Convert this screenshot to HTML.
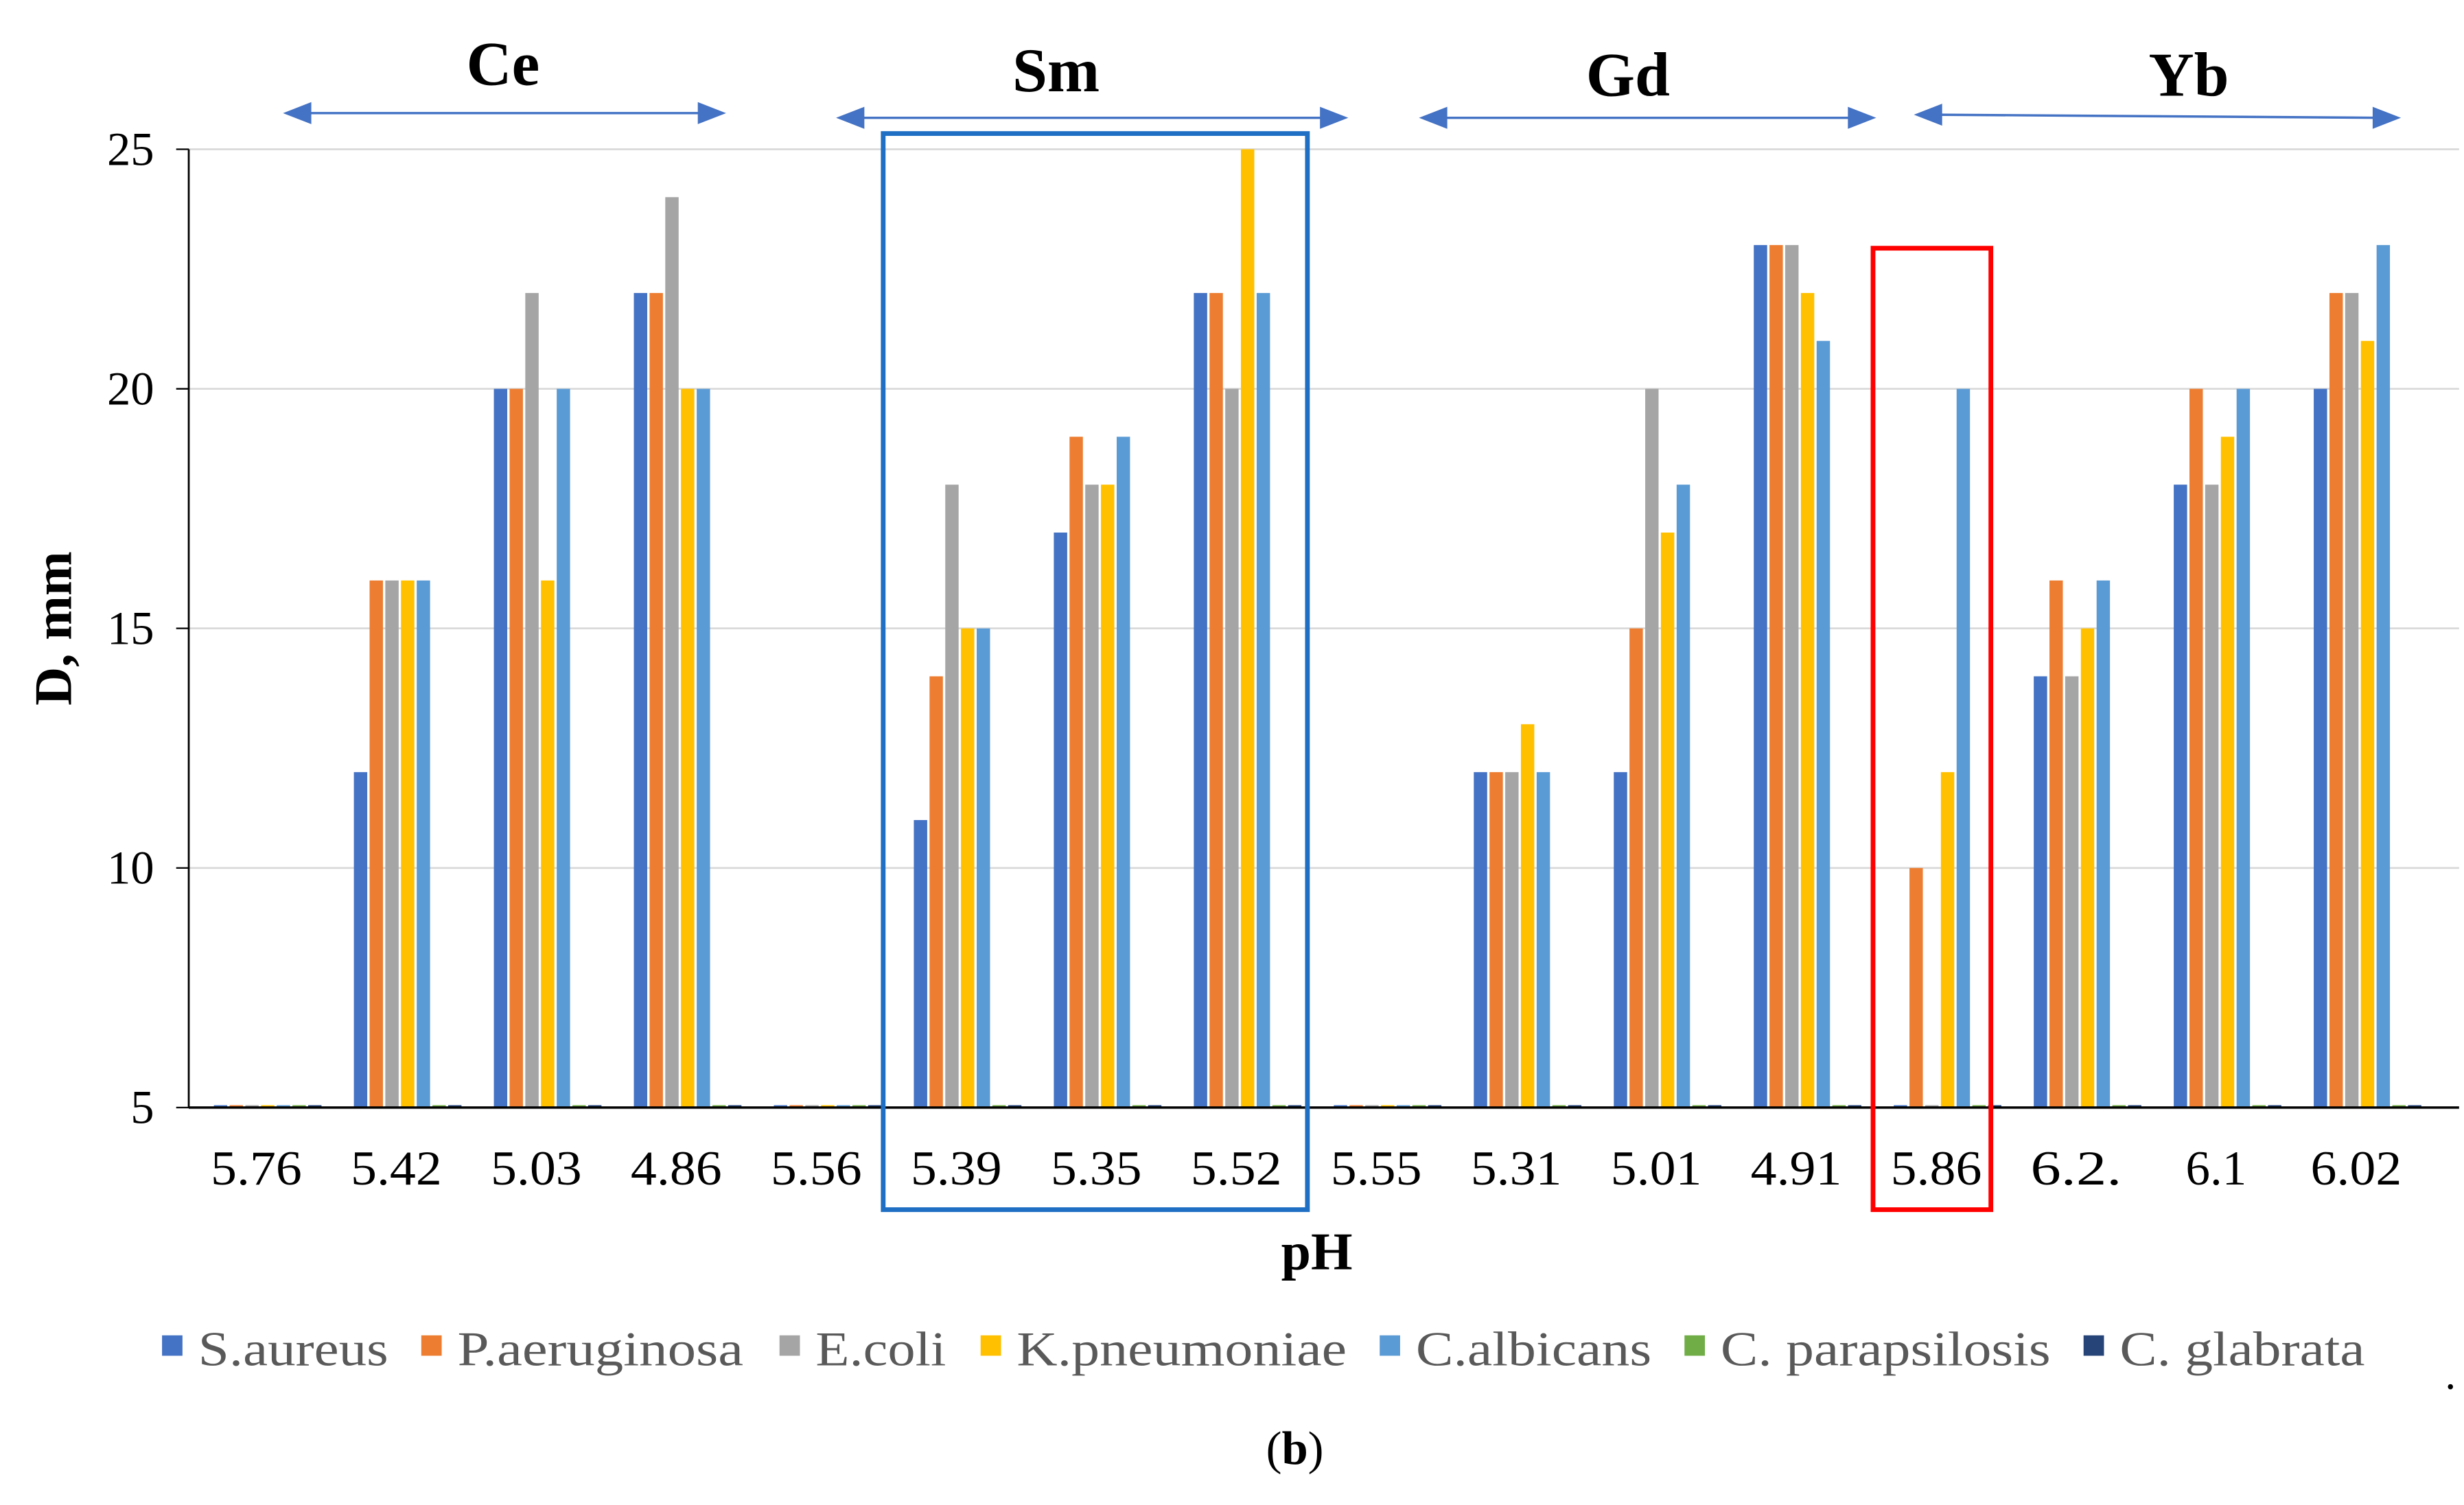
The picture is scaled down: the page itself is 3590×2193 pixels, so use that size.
<!DOCTYPE html>
<html><head><meta charset="utf-8"><style>
html,body{margin:0;padding:0;background:#fff;}
svg{display:block;font-family:"Liberation Serif",serif;}
</style></head><body>
<svg id="chart" width="3590" height="2193" viewBox="0 0 1568 958" xmlns="http://www.w3.org/2000/svg">
<g id="grid"></g>
<g id="bars"></g>
<g id="axes"></g>
<g fill="#4472c4" stroke="#4472c4">
 <text x="320" y="54" font-size="40" font-weight="bold" text-anchor="middle" fill="#000" stroke="none">Ce</text>
 <text x="672" y="58" font-size="40" font-weight="bold" text-anchor="middle" fill="#000" stroke="none">Sm</text>
 <text x="1036" y="61" font-size="40" font-weight="bold" text-anchor="middle" fill="#000" stroke="none">Gd</text>
 <text x="1393" y="61" font-size="40" font-weight="bold" text-anchor="middle" fill="#000" stroke="none">Yb</text>
 <g><line x1="192" y1="72" x2="450" y2="72" stroke-width="1.5"/><polygon points="180,72 198,65 198,79" stroke="none"/><polygon points="462,72 444,65 444,79" stroke="none"/></g>
 <g><line x1="544" y1="75" x2="846" y2="75" stroke-width="1.5"/><polygon points="532,75 550,68 550,82" stroke="none"/><polygon points="858,75 840,68 840,82" stroke="none"/></g>
 <g><line x1="915" y1="75" x2="1182" y2="75" stroke-width="1.5"/><polygon points="903,75 921,68 921,82" stroke="none"/><polygon points="1194,75 1176,68 1176,82" stroke="none"/></g>
 <g><line x1="1230" y1="73" x2="1516" y2="75" stroke-width="1.5"/><polygon points="1218,73 1236,66 1236,80" stroke="none"/><polygon points="1528,75 1510,68 1510,82" stroke="none"/></g>
</g>
<rect x="562" y="85" width="270" height="685" fill="none" stroke="#1f6fc4" stroke-width="3"/>
<rect x="1192" y="158" width="75" height="612" fill="none" stroke="#ff0000" stroke-width="3"/>
<text x="838" y="808" font-size="34" font-weight="bold" text-anchor="middle">pH</text>
<text transform="translate(45,400) rotate(-90)" font-size="34" font-weight="bold" text-anchor="middle">D, mm</text>
<g id="legend"></g>
<text x="1556" y="884" font-size="28">.</text>
<text x="824" y="932" font-size="30" text-anchor="middle">(<tspan font-weight="bold">b</tspan>)</text>
</svg>
<script>
const categories=["5.76","5.42","5.03","4.86","5.56","5.39","5.35","5.52","5.55","5.31","5.01","4.91","5.86","6.2.","6.1","6.02"];
const seriesNames=["S.aureus","P.aeruginosa","E.coli","K.pneumoniae","C.albicans","C. parapsilosis","C. glabrata"];
const sAureus=[5,12,20,22,5,11,17,22,5,12,12,23,5,14,18,20];
const pAeruginosa=[5,16,20,22,5,14,19,22,5,12,15,23,10,16,20,22];
const eColi=[5,16,22,24,5,18,18,20,5,12,20,23,5,14,18,22];
const kPneumoniae=[5,16,16,20,5,15,18,25,5,13,17,22,12,15,19,21];
const cAlbicans=[5,16,20,20,5,15,19,22,5,12,18,21,20,16,20,23];
const cParapsilosis=[5,5,5,5,5,5,5,5,5,5,5,5,5,5,5,5];
const cGlabrata=[5,5,5,5,5,5,5,5,5,5,5,5,5,5,5,5];
const yTicks=[5,10,15,20,25];
const colors=["#4472c4","#ed7d31","#a5a5a5","#ffc000","#5b9bd5","#70ad47","#264478"];
const series=[sAureus,pAeruginosa,eColi,kPneumoniae,cAlbicans,cParapsilosis,cGlabrata];
const NS="http://www.w3.org/2000/svg";
const X0=120,X1=1565,Y0=705,Y1=95,VMIN=5,VMAX=25;
const C0=163,CSTEP=89.1;
function yScale(v){return Y0-(v-VMIN)/(VMAX-VMIN)*(Y0-Y1);}
function xCenter(i){return C0+CSTEP*i;}
function mk(tag,attrs,parent){const e=document.createElementNS(NS,tag);for(const k in attrs)e.setAttribute(k,attrs[k]);parent.appendChild(e);return e;}
const grid=document.getElementById('grid'),bars=document.getElementById('bars'),axes=document.getElementById('axes'),legend=document.getElementById('legend');
yTicks.forEach(t=>{
  if(t>VMIN){const l=mk('line',{x1:X0,x2:X1,y1:yScale(t),y2:yScale(t),stroke:'#d9d9d9','stroke-width':1.2},grid);
  
  }
  const tk=mk('line',{x1:X0-8,x2:X0,y1:yScale(t),y2:yScale(t),stroke:'#000','stroke-width':1},axes);
  
  
  const tx=mk('text',{x:X0-22,y:yScale(t)+10,'font-size':30,'text-anchor':'end'},axes);
  tx.textContent=t;
  
  
});
const pitch=10,bw=8.5;
categories.forEach((c,i)=>{
  const start=xCenter(i)-27;
  series.forEach((s,j)=>{
    const v=s[i];const y=yScale(v);const h=Math.max(Y0-y,1.5);
    const r=mk('rect',{x:start+j*pitch,y:Y0-h,width:bw,height:h,fill:colors[j]},bars);
    
    
  });
  const attrs={x:xCenter(i),y:Y0+49,'font-size':31,'text-anchor':'middle'};
  if(c.length===4){attrs.textLength=58;attrs.lengthAdjust='spacingAndGlyphs';}
  const tx=mk('text',attrs,axes);
  tx.textContent=c;
  
  
});
const ax=mk('line',{x1:X0,x2:X0,y1:Y1,y2:Y0,stroke:'#000','stroke-width':1.2},axes);


const bx=mk('line',{x1:X0,x2:X1,y1:Y0,y2:Y0,stroke:'#000','stroke-width':1.5},axes);


const legendX=[103,268,496,624,878,1072,1326];
const legendW=[121,182,83,210,150,210,156];
seriesNames.forEach((n,j)=>{
  const g=mk('g',{},legend);
  
  
  mk('rect',{x:legendX[j],y:850,width:13,height:13,fill:colors[j]},g);
  const t=mk('text',{x:legendX[j]+23,y:869,'font-size':31,fill:'#595959',textLength:legendW[j],lengthAdjust:'spacingAndGlyphs'},g);
  t.textContent=n;
});
</script>
</body></html>
